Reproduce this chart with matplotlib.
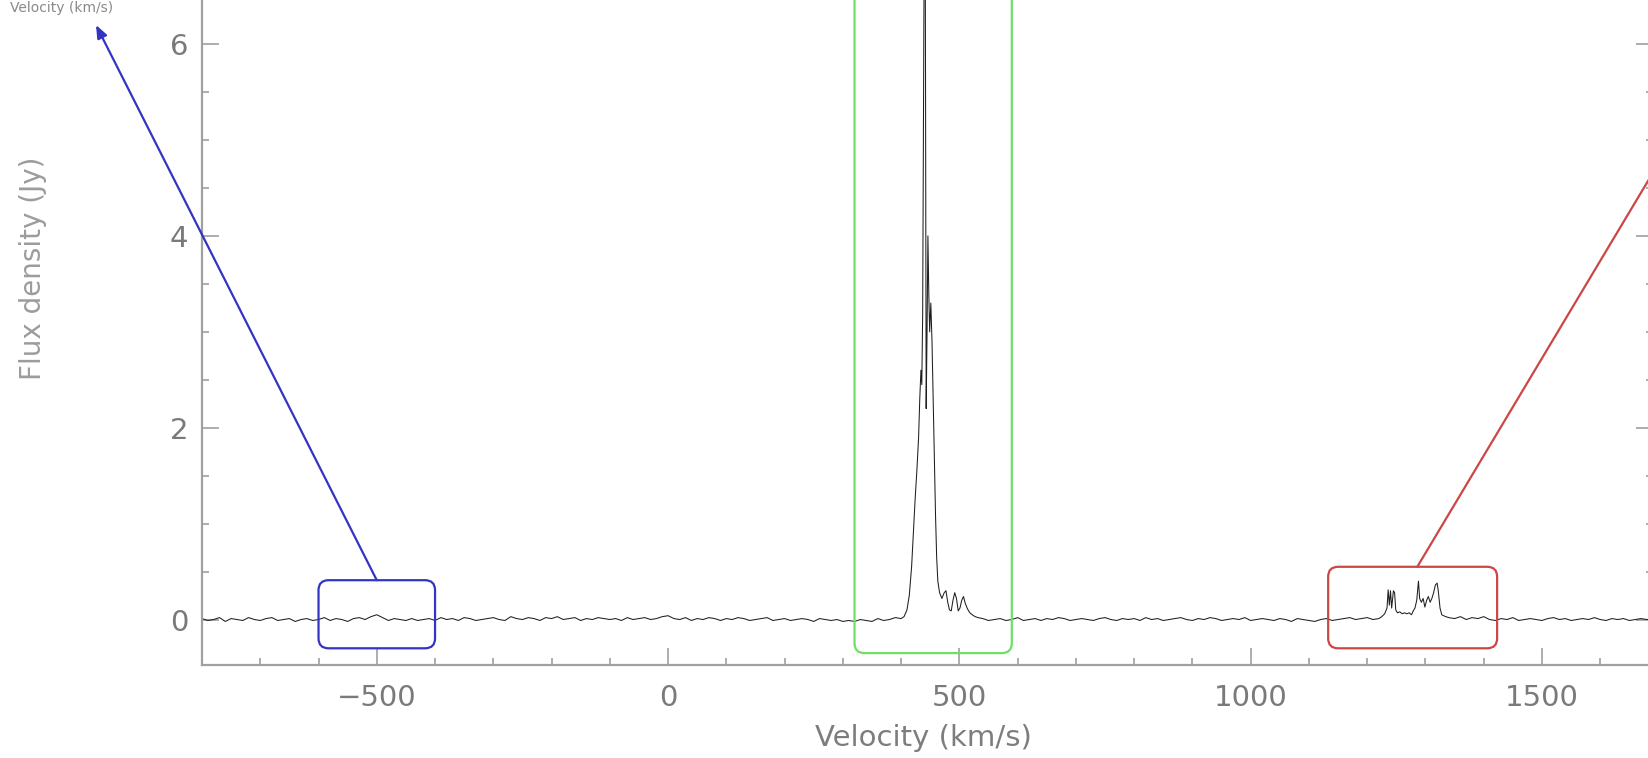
import numpy as np
import matplotlib
matplotlib.use("Agg")
import matplotlib.pyplot as plt
from matplotlib.patches import FancyBboxPatch

# ---------------- data ----------------
# baseline channels (10 km/s) : segment A  -800 .. 390
base_a_v = np.arange(-800, 400, 10)
base_a_f = [
    0.01, -0.01, 0.00, 0.02, -0.02, 0.01, 0.00, -0.01, 0.02, 0.00,
    -0.01, 0.01, 0.02, -0.01, 0.00, 0.01, -0.02, 0.00, 0.01, -0.01,
    0.00, 0.02, -0.01, 0.01, 0.00, -0.02, 0.01, 0.02, 0.00, 0.03,
    0.05, 0.02, -0.01, 0.01, 0.00, -0.01, 0.01, -0.01, 0.00, 0.01,
    -0.01, 0.02, 0.00, 0.01, -0.01, 0.02, 0.01, -0.01, 0.00, 0.01,
    0.02, 0.00, -0.01, 0.03, 0.01, 0.00, 0.02, 0.01, -0.01, 0.02,
    0.01, 0.03, 0.00, 0.01, 0.02, -0.01, 0.01, 0.00, 0.02, 0.01,
    0.00, 0.01, -0.01, 0.02, 0.00, 0.01, 0.02, 0.00, 0.01, 0.03,
    0.04, 0.01, 0.00, 0.02, -0.01, 0.01, 0.00, 0.02, 0.01, -0.01,
    0.01, 0.00, 0.02, 0.01, -0.01, 0.00, 0.01, 0.02, -0.01, 0.00,
    0.01, -0.01, 0.00, 0.01, 0.00, -0.02, 0.01, 0.00, -0.01, 0.00,
    -0.02, -0.01, -0.02, 0.00, -0.01, -0.02, 0.01, -0.01, 0.00, 0.02,
]
# segment B  540 .. 1220
base_b_v = np.arange(540, 1230, 10)
base_b_f = [
    0.01, -0.01, 0.00, 0.01, -0.01, 0.00, 0.02, -0.01, 0.00, 0.01,
    -0.01, 0.01, 0.00, 0.02, 0.01, -0.01, 0.00, 0.01, 0.00, -0.01,
    0.01, 0.02, 0.00, -0.01, 0.01, 0.00, 0.01, -0.01, 0.02, 0.00,
    0.01, -0.01, 0.00, 0.01, 0.02, 0.00, -0.01, 0.01, 0.00, 0.02,
    0.01, -0.01, 0.00, 0.01, 0.00, 0.02, -0.01, 0.00, 0.01, 0.00,
    -0.01, 0.01, 0.00, -0.02, 0.01, 0.00, -0.01, -0.02, 0.00, 0.01,
    -0.01, 0.00, 0.01, 0.02, 0.00, 0.01, 0.02, 0.00, 0.01,
]
# segment C  1340 .. 1700
base_c_v = np.arange(1340, 1710, 10)
base_c_f = [
    0.02, 0.01, 0.03, 0.00, 0.02, 0.01, 0.03, 0.00, -0.01, 0.01,
    0.00, 0.02, -0.01, 0.00, 0.01, 0.00, -0.01, 0.01, 0.02, 0.00,
    0.01, -0.01, 0.00, 0.01, 0.00, 0.02, 0.00, -0.01, 0.01, 0.00,
    0.01, -0.01, 0.00, 0.01, 0.00, 0.01, 0.00,
]

# main line (green box)
peak_v = [400, 405, 410, 414, 418, 421, 424, 427, 430, 432, 434, 435.5,
          437, 438.5, 440, 441.5, 443, 444.5, 446, 447.5, 449, 451, 453,
          455, 457, 459, 461, 463, 466, 470, 474, 477, 480, 483, 486, 489,
          492, 495, 498, 501, 504, 507, 510, 514, 518, 522, 527, 532]
peak_f = [0.01, 0.03, 0.10, 0.25, 0.55, 0.90, 1.25, 1.55, 1.90, 2.30, 2.60, 2.45,
          3.20, 5.50, 7.50, 6.80, 2.20, 3.00, 4.00, 3.40, 3.00, 3.30, 2.90,
          2.30, 1.70, 1.10, 0.65, 0.40, 0.28, 0.22, 0.28, 0.30, 0.18, 0.10, 0.09, 0.20,
          0.28, 0.22, 0.09, 0.12, 0.20, 0.24, 0.17, 0.11, 0.07, 0.05, 0.03, 0.02]

# high-velocity features (red box)
red_v = [1225, 1230, 1234, 1236, 1238, 1240, 1242, 1245, 1247, 1249, 1252,
         1256, 1260, 1264, 1268, 1272, 1276, 1279, 1282, 1285, 1288, 1290,
         1293, 1296, 1299, 1302, 1305, 1308, 1311, 1314, 1317, 1320, 1322,
         1325, 1328, 1331, 1335]
red_f = [0.03, 0.06, 0.12, 0.31, 0.15, 0.30, 0.12, 0.30, 0.28, 0.10, 0.07,
         0.08, 0.06, 0.07, 0.06, 0.07, 0.05, 0.09, 0.12, 0.20, 0.40, 0.22,
         0.18, 0.22, 0.13, 0.20, 0.24, 0.18, 0.22, 0.28, 0.36, 0.38, 0.30,
         0.12, 0.05, 0.04, 0.03]

# highlighted velocity windows  (v_min, v_max, f_min, f_max)
blue_win = (-600, -400, -0.30, 0.41)
green_win = (320, 590, -0.35, 7.5)
red_win = (1133, 1423, -0.30, 0.55)

x_ticks = [-500, 0, 500, 1000, 1500]
y_ticks = [0, 2, 4, 6]

# ---------------- figure ----------------
W, H, DPI = 1649, 758, 100
fig = plt.figure(figsize=(W / DPI, H / DPI), dpi=DPI)
fig.patch.set_facecolor("white")

xlim = (-800, 1690)
ylim = (-0.47, 6.62)
px_per_v = 0.5826
px_per_f = 95.9
ax_left = 202 / W
ax_w = (xlim[1] - xlim[0]) * px_per_v / W
ax_bottom = (H - 664.6) / H
ax_h = (ylim[1] - ylim[0]) * px_per_f / H
ax = fig.add_axes([ax_left, ax_bottom, ax_w, ax_h])

vel = np.concatenate([base_a_v, peak_v, base_b_v, red_v, base_c_v])
flux = np.concatenate([base_a_f, peak_f, base_b_f, red_f, base_c_f])
order = np.argsort(vel, kind="stable")
ax.plot(vel[order], flux[order], color="#1f1f1f", lw=0.75, zorder=2)

ax.set_xlim(*xlim)
ax.set_ylim(*ylim)

gray = "#a0a0a0"
for side in ["left", "bottom", "right"]:
    ax.spines[side].set_color(gray)
    ax.spines[side].set_linewidth(1.6)
ax.spines["top"].set_visible(False)

ax.set_xticks(x_ticks)
ax.set_xticks(np.arange(-700, 1700, 100), minor=True)
ax.set_yticks(y_ticks)
ax.set_yticks(np.arange(0, 6.6, 0.5), minor=True)
ax.tick_params(which="both", direction="in", color=gray, width=1.2,
               right=True, top=False)
ax.tick_params(which="major", length=12)
ax.tick_params(which="minor", length=5)
ax.tick_params(axis="x", which="major", pad=14, labelsize=21, labelcolor="#7a7a7a")
ax.tick_params(axis="y", which="major", pad=10, labelsize=21, labelcolor="#7a7a7a")

ax.set_xlabel("Velocity (km/s)", fontsize=21, color="#7d7d7d")
ax.xaxis.set_label_coords((926 - 202) / 1456, (664.6 - 738) / ((ylim[1] - ylim[0]) * px_per_f))
ax.xaxis.label.set_va("center")
ax.set_ylabel("Flux density (Jy)", fontsize=20, color="#9c9c9c")
ax.yaxis.set_label_coords((32 - 202) / 1456, (664.6 - 268) / ((ylim[1] - ylim[0]) * px_per_f))
ax.yaxis.label.set_va("center")

# rounded windows
R_px = 10
R = R_px / px_per_v
aspect = (R_px / px_per_f) / R
for (v0, v1, f0, f1), col in [(blue_win, "#3434c4"), (green_win, "#6fdf66"), (red_win, "#cc4646")]:
    box = FancyBboxPatch((v0, f0), v1 - v0, f1 - f0,
                         boxstyle=f"round,pad=0,rounding_size={R}",
                         mutation_aspect=aspect, transform=ax.transData,
                         fill=False, edgecolor=col, lw=1.6, zorder=3)
    ax.add_patch(box)

# connector lines toward (cropped) zoom panels
ax.annotate("", xy=(96 / W, 1 - 25 / H), xycoords="figure fraction",
            xytext=((blue_win[0] + blue_win[1]) / 2, blue_win[3]), textcoords="data",
            arrowprops=dict(arrowstyle="-|>,head_length=0.55,head_width=0.22",
                            color="#3434c4", lw=1.6, shrinkA=0, shrinkB=0,
                            mutation_scale=14),
            annotation_clip=False)
ax.annotate("", xy=(1700 / W, 1 - 94 / H), xycoords="figure fraction",
            xytext=(1286, red_win[3]), textcoords="data",
            arrowprops=dict(arrowstyle="-", color="#cc4646", lw=1.6,
                            shrinkA=0, shrinkB=0),
            annotation_clip=False)

# label of the panel above (cut by the crop in the original)
fig.text(10 / W, 1 - 1 / H, "Velocity (km/s)", fontsize=10, color="#8a8a8a",
         ha="left", va="top")

fig.savefig("out.png", dpi=DPI)
